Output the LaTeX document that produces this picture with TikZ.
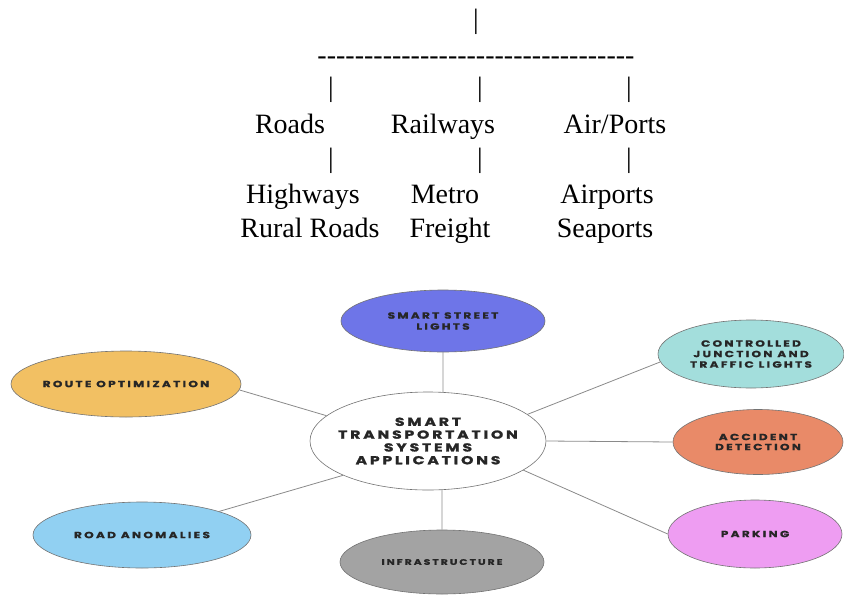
\documentclass[tikz,border=0pt]{standalone}
\usepackage{fontspec}
\setmainfont{Liberation Serif}
\newfontfamily\capfont[LetterSpace=25,FakeStretch=1.35,FakeBold=1.2]{Poppins}
\newfontfamily\hubfont[LetterSpace=24,FakeStretch=1.35,FakeBold=1.5]{Poppins}
\usetikzlibrary{shapes.geometric}

\definecolor{lampblue}{HTML}{6E75E8}
\definecolor{routeorange}{HTML}{F2C063}
\definecolor{junctionteal}{HTML}{A3DEDC}
\definecolor{accidentred}{HTML}{E98A68}
\definecolor{parkingpink}{HTML}{EE9DF2}
\definecolor{roadblue}{HTML}{91D0F2}
\definecolor{infragray}{HTML}{A3A3A3}
\definecolor{linkgray}{HTML}{8A8A8A}

\tikzset{
  treetext/.style={inner sep=0pt,font=\fontsize{28}{30}\selectfont},
  app/.style={ellipse,draw=black!55,line width=0.6pt,inner sep=0pt,align=center,
    text=black!85,font=\capfont\bfseries\fontsize{9}{10.5}\selectfont},
  hub/.style={app,fill=white,inner xsep=-20pt,font=\hubfont\bfseries\fontsize{11.6}{12.8}\selectfont},
  link/.style={draw=linkgray,line width=0.8pt}
}

\begin{document}
\begin{tikzpicture}[x=1pt,y=-1pt]
\useasboundingbox (0,0) rectangle (844,595);

% modes of transport
\node[treetext] (top) at (476,22) {|};
\node[treetext,anchor=base] (dashes) at (476,64) {\foreach \k in {1,...,34}{-{}}};
\node[treetext] (pa) at (331,90) {|};
\node[treetext] (pb) at (480,90) {|};
\node[treetext] (pc) at (629,90) {|};
\node[treetext,anchor=base] (roads) at (290,133) {Roads};
\node[treetext,anchor=base] (rail) at (443,133) {Railways};
\node[treetext,anchor=base] (air) at (615,133) {Air/Ports};
\node[treetext] (qa) at (331,161) {|};
\node[treetext] (qb) at (480,161) {|};
\node[treetext] (qc) at (629,161) {|};
\node[treetext,anchor=base] (hwy) at (303,203) {Highways};
\node[treetext,anchor=base] (metro) at (445,203) {Metro};
\node[treetext,anchor=base] (airp) at (607,203) {Airports};
\node[treetext,anchor=base] (rural) at (310,237) {Rural Roads};
\node[treetext,anchor=base] (freight) at (450,237) {Freight};
\node[treetext,anchor=base] (seap) at (605,237) {Seaports};

% applications
\node[hub,minimum width=236pt,minimum height=98pt] (hub) at (428,441)
  {SMART\\TRANSPORTATION\\SYSTEMS\\APPLICATIONS};
\node[app,fill=lampblue,minimum width=204pt,minimum height=62pt,
  font=\capfont\bfseries\fontsize{9}{11}\selectfont] (lights) at (443,321)
  {SMART STREET\\LIGHTS};
\node[app,fill=routeorange,minimum width=230pt,minimum height=66pt,inner xsep=-5pt] (route) at (126,384)
  {ROUTE OPTIMIZATION};
\node[app,fill=junctionteal,minimum width=186pt,minimum height=68pt] (junction) at (751,354)
  {CONTROLLED\\JUNCTION AND\\TRAFFIC LIGHTS};
\node[app,fill=accidentred,minimum width=170pt,minimum height=65pt,
  font=\capfont\bfseries\fontsize{9}{10}\selectfont] (accident) at (758,442)
  {ACCIDENT\\DETECTION};
\node[app,fill=parkingpink,minimum width=174pt,minimum height=68pt] (parking) at (755,534)
  {PARKING};
\node[app,fill=roadblue,minimum width=218pt,minimum height=66pt] (anomaly) at (142,535)
  {ROAD ANOMALIES};
\node[app,fill=infragray,minimum width=204pt,minimum height=64pt,
  font=\capfont\bfseries\fontsize{8}{10}\selectfont] (infra) at (442,562)
  {INFRASTRUCTURE};

\draw[link] (lights.south) -- (hub.73);
\draw[link] (route.-3) -- (hub.166);
\draw[link] (anomaly.17) -- (hub.202);
\draw[link] (junction.185) -- (hub.15);
\draw[link] (accident.west) -- (hub.east);
\draw[link] (parking.west) -- (hub.343);
\draw[link] (infra.north) -- (hub.-74);
\end{tikzpicture}
\end{document}
